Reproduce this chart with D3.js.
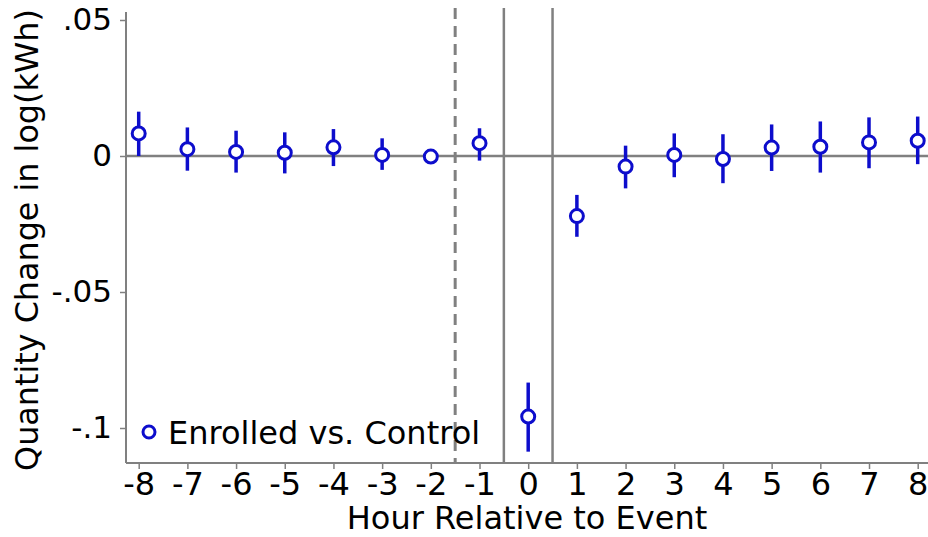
<!DOCTYPE html>
<html><head><meta charset="utf-8">
<script src="https://cdn.jsdelivr.net/npm/d3@7"></script>
<style>body{margin:0;background:#fff}svg{display:block}text{font-family:"DejaVu Sans",sans-serif;fill:#000}</style>
</head><body><svg id="c" width="928" height="537"></svg>
<script>
const hours = [-8,-7,-6,-5,-4,-3,-2,-1,0,1,2,3,4,5,6,7,8];
const estimate = [0.0083,0.0025,0.0015,0.0012,0.0032,0.0004,-0.0002,0.0047,-0.0958,-0.0221,-0.0039,0.0004,-0.0011,0.0031,0.0034,0.0050,0.0056];
const ciLow =  [0.0000,-0.0054,-0.0061,-0.0064,-0.0037,-0.0051,-0.0006,-0.0017,-0.1087,-0.0297,-0.0119,-0.0078,-0.0100,-0.0055,-0.0061,-0.0045,-0.0030];
const ciHigh = [0.0163,0.0105,0.0093,0.0087,0.0099,0.0065,0.0002,0.0102,-0.0833,-0.0143,0.0038,0.0083,0.0080,0.0116,0.0127,0.0142,0.0145];
const yTicks = [0.05,0,-0.05,-0.1];
const yTickLabels = [".05","0","-.05","-.1"];
const dashedLine = -1.5;
const solidLines = [-0.5,0.5];
const seriesName = "Enrolled vs. Control";
const xTitle = "Hour Relative to Event";
const yTitle = "Quantity Change in log(kWh)";

const svg = d3.select("#c");
const L = 126, R = 928, T = 12, B = 463;
const x = d3.scaleLinear().domain([-8,8]).range([138.7,917.7]);
const y = d3.scaleLinear().domain([0,0.05]).range([156,20]);
const gray = "#808080", blue = "#0d0dcc";

// reference lines
svg.append("line").attr("x1",L).attr("x2",R).attr("y1",y(0)).attr("y2",y(0)).attr("stroke",gray).attr("stroke-width",2.5);
svg.append("line").attr("x1",x(dashedLine)).attr("x2",x(dashedLine)).attr("y1",T-4).attr("y2",B)
  .attr("stroke",gray).attr("stroke-width",3).attr("stroke-dasharray","11,7");
solidLines.forEach(v=>svg.append("line").attr("x1",x(v)).attr("x2",x(v)).attr("y1",T-4).attr("y2",B).attr("stroke",gray).attr("stroke-width",2.5));

// axes
const yAxis = d3.axisLeft(y).tickValues(yTicks).tickFormat((d,i)=>yTickLabels[i]).tickSize(6).tickPadding(8);
const gy = svg.append("g").attr("transform",`translate(${L},0)`).call(yAxis);
gy.select(".domain").remove();
gy.selectAll(".tick line").attr("stroke",gray).attr("stroke-width",1.5);
gy.selectAll(".tick text").style("font-size","31px").attr("fill","#000");
svg.append("line").attr("x1",L).attr("x2",L).attr("y1",T).attr("y2",B).attr("stroke",gray).attr("stroke-width",2);

const xAxis = d3.axisBottom(x).tickValues(hours).tickFormat(d3.format("d")).tickSize(6).tickPadding(3);
const gx = svg.append("g").attr("transform",`translate(0,${B})`).call(xAxis);
gx.select(".domain").remove();
gx.selectAll(".tick line").attr("stroke",gray).attr("stroke-width",1.5);
gx.selectAll(".tick text").style("font-size","32px").attr("fill","#000").text(d=>d<0?"-"+Math.abs(d):d);
svg.append("line").attr("x1",L).attr("x2",R).attr("y1",B).attr("y2",B).attr("stroke",gray).attr("stroke-width",2);

// CI bars
svg.append("g").selectAll("line").data(hours).join("line")
  .attr("x1",d=>x(d)).attr("x2",d=>x(d)).attr("y1",(d,i)=>y(ciLow[i])).attr("y2",(d,i)=>y(ciHigh[i]))
  .attr("stroke",blue).attr("stroke-width",3.5);
// points
svg.append("g").selectAll("circle").data(hours).join("circle")
  .attr("cx",d=>x(d)).attr("cy",(d,i)=>y(estimate[i])).attr("r",6.5)
  .attr("fill","#fff").attr("stroke",blue).attr("stroke-width",3);

// legend
svg.append("circle").attr("cx",149).attr("cy",432).attr("r",6).attr("fill","#fff").attr("stroke",blue).attr("stroke-width",3);
svg.append("text").attr("x",168).attr("y",444).style("font-size","32px").text(seriesName);

// titles
svg.append("text").attr("x",527).attr("y",529).attr("text-anchor","middle").style("font-size","32px").text(xTitle);
svg.append("text").attr("transform","translate(38,240) rotate(-90)").attr("text-anchor","middle").style("font-size","31.8px").text(yTitle);
</script></body></html>
